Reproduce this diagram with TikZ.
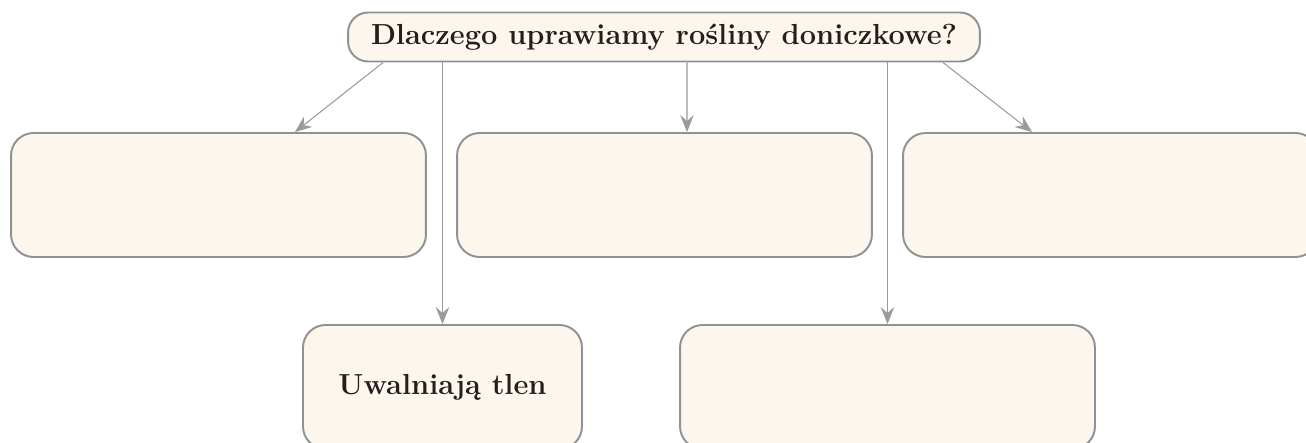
\documentclass[tikz,border=0pt]{standalone}
\usepackage{fontspec}
\usepackage{tikz}
\usetikzlibrary{positioning,arrows.meta}
\definecolor{ramka}{HTML}{909194}
\definecolor{tlo}{HTML}{FDF6EC}
\definecolor{strzalka}{HTML}{9A9A9D}
\definecolor{tekst}{HTML}{231F20}
\begin{document}
\begin{tikzpicture}[x=0.02cm, y=-0.02cm,
					box/.style={draw=ramka, line width=1.1pt, fill=tlo, rounded corners=0.45cm,
						minimum width=8.3cm, minimum height=2.48cm, text=tekst,
						font=\fontsize{16.5}{19}\selectfont\bfseries},
					arr/.style={-{Stealth[length=3.4mm, width=2.7mm, inset=1.2mm]}, draw=strzalka, line width=0.6pt}]
					\useasboundingbox (0,0) rectangle (1306,443);
					\node[box, rounded corners=0.4cm, minimum width=12.64cm, minimum height=0.98cm] (q) at (664,37) {Dlaczego uprawiamy rośliny doniczkowe?};
					\node[box] (l) at (218.5,195) {};
					\node[box] (m) at (664.5,195) {};
					\node[box] (r) at (1110.5,195) {};
					\node[box, minimum width=5.58cm] (t) at (442.5,387) {Uwalniają tlen};
					\node[box] (k) at (887.5,387) {};
					\draw[arr] ([xshift=-5.62cm]q.south) to ([xshift=1.53cm]l.north);
					\draw[arr] (q.south -| t.north) to (t.north);
					\draw[arr] ([xshift=0.46cm]q.south) to ([xshift=0.45cm]m.north);
					\draw[arr] (q.south -| k.north) to (k.north);
					\draw[arr] ([xshift=5.58cm]q.south) to ([xshift=-1.57cm]r.north);
				\end{tikzpicture}
\end{document}
